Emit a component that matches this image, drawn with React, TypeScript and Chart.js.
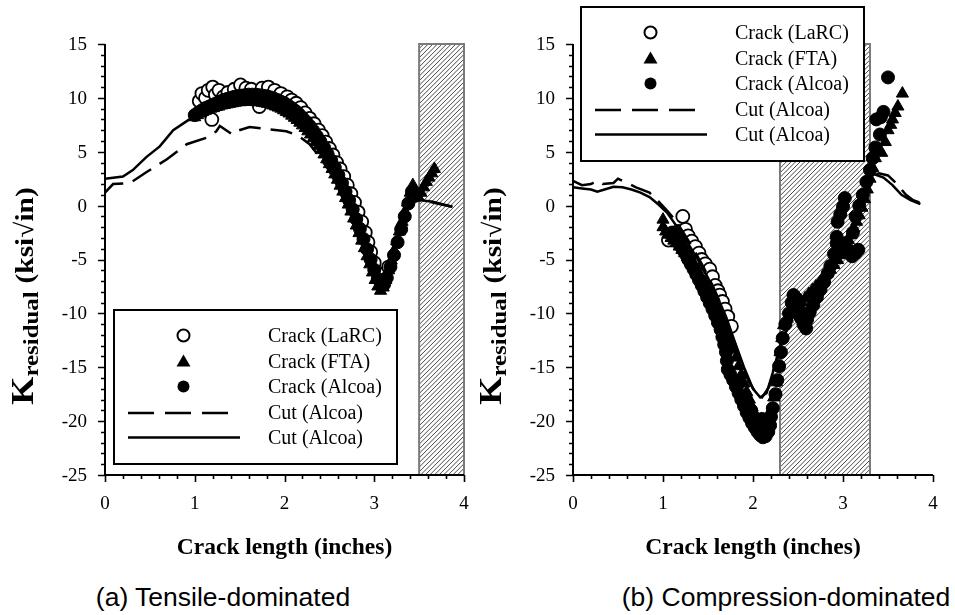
import React, { useEffect, useRef } from "react";
import { Chart, registerables } from "chart.js";
Chart.register(...registerables);

// ---------- shared labels ----------
const xTickValues = [0, 1, 2, 3, 4];
const yTickValues = [-25, -20, -15, -10, -5, 0, 5, 10, 15];
const legendLabels = ["Crack (LaRC)", "Crack (FTA)", "Crack (Alcoa)", "Cut (Alcoa)", "Cut (Alcoa)"];
const xTitle = "Crack length (inches)";
const yTitleMain = "K";
const yTitleSub = "residual";
const yTitleUnit = "(ksi\u221Ain)";
const captionA = "(a) Tensile-dominated";
const captionB = "(b) Compression-dominated";

// ---------- panel (a) tensile-dominated ----------
const aHatch = [3.5, 4.0];
const aLaRC: [number, number][] = [
  [1.05, 9.7], [1.08, 10.4], [1.12, 10.0], [1.15, 10.7], [1.19, 8.0], [1.2, 11.0], [1.23, 10.3],
  [1.27, 10.7], [1.32, 10.1], [1.37, 10.5], [1.44, 10.8], [1.51, 11.2], [1.57, 10.9], [1.63, 10.8],
  [1.72, 9.2], [1.75, 10.9], [1.82, 11.0], [1.89, 10.7], [1.96, 10.4], [2.03, 10.1], [2.08, 9.8],
  [2.13, 9.5], [2.18, 9.1], [2.23, 8.6], [2.28, 8.1], [2.33, 7.6], [2.38, 7.0], [2.42, 6.5],
  [2.46, 5.9], [2.5, 5.3], [2.54, 4.7], [2.58, 4.0], [2.62, 3.4], [2.66, 2.7], [2.7, 1.9],
  [2.74, 1.1], [2.78, 0.3], [2.82, -0.6], [2.86, -1.5], [2.9, -2.5], [2.93, -3.4], [2.96, -4.3],
  [3.0, -5.3], [3.04, -6.3], [3.08, -6.9], [3.12, -6.3], [3.16, -5.7],
];
const aFTA: [number, number][] = [
  [1.0, 8.2], [1.03, 8.4], [1.06, 8.55], [1.09, 8.7], [1.12, 8.8], [1.15, 8.9], [1.18, 9.0], [1.21, 9.05],
  [1.24, 9.15], [1.27, 9.2], [1.3, 9.3], [1.33, 9.35], [1.36, 9.4], [1.39, 9.45], [1.42, 9.5], [1.45, 9.55],
  [1.48, 9.6], [1.51, 9.6], [1.54, 9.65], [1.57, 9.65], [1.6, 9.65], [1.63, 9.65], [1.66, 9.65],
  [1.69, 9.6], [1.72, 9.6], [1.75, 9.55], [1.78, 9.5], [1.81, 9.45], [1.84, 9.4], [1.87, 9.3],
  [1.9, 9.2], [1.93, 9.1], [1.96, 9.0], [1.99, 8.85], [2.02, 8.7], [2.05, 8.55], [2.08, 8.35],
  [2.11, 8.15], [2.14, 7.95], [2.17, 7.7], [2.2, 7.45], [2.23, 7.2], [2.26, 6.9], [2.29, 6.6],
  [2.32, 6.25], [2.35, 5.9], [2.38, 5.55], [2.41, 5.15], [2.44, 4.75], [2.47, 4.3], [2.5, 3.85],
  [2.53, 3.4], [2.56, 2.9], [2.59, 2.4], [2.62, 1.85], [2.65, 1.3], [2.68, 0.7], [2.71, 0.1],
  [2.74, -0.55], [2.77, -1.2], [2.8, -1.85], [2.83, -2.55], [2.86, -3.25], [2.89, -3.95], [2.92, -4.7],
  [2.95, -5.45], [2.98, -6.2], [3.01, -6.9], [3.04, -7.5], [3.07, -7.9], [3.1, -7.6], [3.13, -6.9],
  [3.16, -6.0], [3.19, -5.1], [3.22, -4.2], [3.25, -3.3], [3.28, -2.4], [3.31, -1.5], [3.34, -0.6],
  [3.37, 0.3], [3.4, 1.2], [3.43, 1.9], [3.46, 1.2], [3.49, 0.8], [3.52, 1.2], [3.55, 1.7], [3.58, 2.2],
  [3.61, 2.6], [3.64, 3.0], [3.67, 3.4],
];
const aAlcoa: [number, number][] = [
  [1.0, 8.4], [1.04, 8.65], [1.08, 8.85], [1.12, 9.05], [1.16, 9.2], [1.2, 9.35], [1.24, 9.5],
  [1.28, 9.65], [1.32, 9.8], [1.36, 9.9], [1.4, 10.0], [1.44, 10.1], [1.48, 10.15], [1.52, 10.2],
  [1.56, 10.25], [1.6, 10.3], [1.64, 10.3], [1.68, 10.3], [1.72, 10.25], [1.76, 10.2], [1.8, 10.15],
  [1.84, 10.05], [1.88, 9.95], [1.92, 9.8], [1.96, 9.65], [2.0, 9.5], [2.04, 9.3], [2.08, 9.05],
  [2.12, 8.8], [2.16, 8.5], [2.2, 8.15], [2.24, 7.8], [2.28, 7.4], [2.32, 6.95], [2.36, 6.45],
  [2.4, 5.95], [2.44, 5.4], [2.48, 4.8], [2.52, 4.2], [2.56, 3.55], [2.6, 2.85], [2.64, 2.1],
  [2.68, 1.3], [2.72, 0.5], [2.76, -0.35], [2.8, -1.25], [2.84, -2.15], [2.88, -3.1], [2.92, -4.05],
  [2.96, -5.0], [3.0, -5.95], [3.04, -6.8], [3.08, -7.4], [3.11, -7.3], [3.14, -6.7], [3.18, -5.7],
  [3.22, -4.6], [3.26, -3.4], [3.3, -2.2], [3.34, -1.0], [3.38, 0.2], [3.42, 1.3],
];
const aCutDashed: [number, number][] = [
  [0, 1.2], [0.09, 2.0], [0.28, 2.1], [0.46, 3.1], [0.69, 4.3], [0.91, 5.7], [1.13, 6.3], [1.24, 6.9],
  [1.28, 7.4], [1.42, 6.6], [1.46, 6.9], [1.61, 7.3], [1.87, 7.05], [2.02, 6.9], [2.15, 6.5],
  [2.28, 5.7], [2.4, 4.4], [2.5, 3.2], [2.6, 1.6], [2.7, -0.3], [2.8, -2.4], [2.9, -4.6], [3.0, -6.9],
  [3.06, -7.9], [3.12, -6.8], [3.2, -4.6], [3.3, -2.0], [3.4, 0.2], [3.5, 0.5], [3.62, 0.35],
  [3.75, 0.1], [3.87, -0.1],
];
const aCutSolid: [number, number][] = [
  [0, 2.5], [0.2, 2.7], [0.31, 3.3], [0.46, 4.5], [0.61, 5.5], [0.76, 7.0], [0.94, 8.0], [1.0, 8.3],
  [1.2, 9.0], [1.5, 9.7], [1.8, 9.8], [2.0, 9.3], [2.2, 8.0], [2.4, 6.0], [2.6, 3.0], [2.8, -1.0],
  [3.0, -6.2], [3.05, -7.5], [3.1, -7.0], [3.2, -4.5], [3.3, -2.0], [3.4, 0.3], [3.46, 0.56],
  [3.65, 0.37], [3.87, -0.1],
];

// ---------- panel (b) compression-dominated ----------
const bHatch = [2.3, 3.3];
const bLaRC: [number, number][] = [
  [1.06, -3.2], [1.17, -2.4], [1.22, -1.0], [1.25, -2.2], [1.28, -2.8], [1.32, -3.3], [1.36, -3.8],
  [1.4, -4.4], [1.43, -5.0], [1.47, -5.4], [1.52, -5.9], [1.55, -6.6], [1.58, -7.4], [1.61, -7.9],
  [1.63, -8.3], [1.66, -8.9], [1.69, -9.6], [1.72, -10.3], [1.76, -11.2],
];
const bFTA: [number, number][] = [
  [1.0, -1.3], [1.0, -2.0], [1.03, -2.4], [1.06, -2.7], [1.09, -3.0], [1.12, -3.25], [1.15, -3.5],
  [1.18, -3.8], [1.21, -4.1], [1.24, -4.4], [1.27, -4.75], [1.3, -5.1], [1.33, -5.45], [1.36, -5.8],
  [1.39, -6.2], [1.42, -6.6], [1.45, -7.0], [1.48, -7.45], [1.51, -7.9], [1.54, -8.4], [1.57, -8.9],
  [1.6, -9.45], [1.63, -10.0], [1.66, -10.6], [1.69, -11.25], [1.72, -11.9], [1.75, -12.6],
  [1.78, -13.35], [1.81, -14.1], [1.84, -14.9], [1.87, -15.7], [1.9, -16.5], [1.93, -17.3],
  [1.96, -18.0], [1.99, -18.7], [2.02, -19.3], [2.05, -19.85], [2.08, -20.3], [2.11, -20.5],
  [2.14, -20.4], [2.17, -19.9], [2.2, -19.0], [2.23, -17.8], [2.26, -16.4], [2.28, -15.0],
  [2.3, -13.6], [2.32, -12.3], [2.34, -11.1], [2.38, -10.5], [2.42, -10.1], [2.46, -9.7], [2.5, -9.4],
  [2.54, -9.0], [2.58, -8.6], [2.62, -8.2], [2.66, -7.85], [2.7, -7.5], [2.74, -7.15], [2.78, -6.75],
  [2.82, -6.35], [2.86, -5.95], [2.9, -5.5], [2.94, -5.05], [2.97, -4.6], [3.0, -4.2], [3.03, -3.7],
  [3.06, -3.2], [3.09, -2.7], [3.12, -2.1], [3.15, -1.5], [3.18, -0.9], [3.21, -0.2], [3.24, 0.6],
  [3.27, 1.5], [3.3, 2.5], [3.33, 3.5], [3.36, 4.4], [3.39, 5.0], [3.43, 4.9], [3.47, 5.9], [3.5, 7.0],
  [3.53, 7.5], [3.55, 8.0], [3.58, 8.6], [3.61, 9.2], [3.66, 10.4],
];
const bAlcoa: [number, number][] = [
  [1.1, -2.5], [1.13, -2.9], [1.16, -3.3], [1.19, -3.7], [1.22, -4.1], [1.25, -4.5], [1.28, -5.0],
  [1.31, -5.45], [1.34, -5.9], [1.37, -6.4], [1.4, -6.9], [1.43, -7.4], [1.46, -7.95], [1.49, -8.5],
  [1.52, -9.05], [1.55, -9.6], [1.58, -10.2], [1.61, -10.85], [1.64, -11.5], [1.66, -12.2],
  [1.68, -12.9], [1.7, -13.6], [1.71, -14.4], [1.72, -15.2], [1.75, -15.7], [1.78, -16.2], [1.81, -16.8],
  [1.84, -17.4], [1.87, -18.0], [1.9, -18.6], [1.93, -19.2], [1.96, -19.7], [1.99, -20.2], [2.02, -20.6],
  [2.05, -21.0], [2.08, -21.3], [2.11, -21.5], [2.14, -21.4], [2.17, -21.0], [2.19, -20.4], [2.2, -19.6],
  [2.1, -19.8], [2.05, -20.0], [2.15, -20.0], [1.85, -16.4], [1.92, -17.9], [1.98, -19.0],
  [2.22, -18.8], [2.25, -17.5], [2.27, -16.2], [2.29, -14.9],
  [2.31, -13.6], [2.33, -12.3], [2.36, -11.0], [2.4, -10.0], [2.43, -9.0], [2.45, -8.3], [2.48, -8.6],
  [2.5, -9.5], [2.53, -10.4], [2.56, -11.0], [2.59, -11.4], [2.6, -10.6], [2.63, -9.9], [2.67, -9.2],
  [2.71, -8.5], [2.75, -7.8], [2.79, -7.1], [2.83, -6.3], [2.86, -5.6], [2.9, -4.5], [2.93, -3.5],
  [2.93, -2.9], [2.94, -1.5], [2.97, -0.8], [3.0, -0.1], [3.02, 0.7], [3.02, -3.5], [3.06, -4.1],
  [3.1, -4.7], [3.14, -4.4], [3.17, -4.1], [3.11, -2.5], [3.14, -1.0], [3.18, 0.0], [3.22, 1.0],
  [3.26, 2.2], [3.3, 3.3], [3.33, 4.4], [3.36, 5.4], [3.41, 6.6], [3.37, 8.0], [3.42, 8.2], [3.45, 8.7],
  [3.5, 11.9],
];
const bCutDashed: [number, number][] = [
  [0, 2.3], [0.1, 1.9], [0.2, 2.0], [0.27, 2.3], [0.33, 2.0], [0.45, 2.1], [0.5, 2.5], [0.6, 2.1],
  [0.7, 1.7], [0.85, 1.2], [0.95, 0.4], [1.05, -0.5], [1.15, -1.5], [1.25, -2.8], [1.35, -4.2],
  [1.45, -5.7], [1.55, -7.4], [1.65, -9.3], [1.75, -11.6], [1.85, -14.0], [1.95, -16.3], [2.05, -17.6],
  [2.1, -17.8], [2.18, -16.8], [2.26, -14.5], [2.34, -12.2], [2.45, -10.2], [2.55, -9.0], [2.65, -7.8],
  [2.75, -6.6], [2.85, -5.4], [2.95, -4.1], [3.05, -2.8], [3.15, -1.0], [3.22, 1.0], [3.3, 2.7],
  [3.4, 3.0], [3.5, 2.8], [3.6, 2.0], [3.7, 1.0], [3.78, 0.5], [3.88, 0.2],
];
const bCutSolid: [number, number][] = [
  [0, 1.7], [0.1, 1.6], [0.2, 1.5], [0.27, 1.3], [0.35, 1.5], [0.45, 1.75], [0.55, 1.7], [0.65, 1.5],
  [0.75, 1.2], [0.85, 0.8], [0.95, 0.1], [1.05, -0.7], [1.1, -1.3], [1.2, -2.5], [1.3, -3.8],
  [1.4, -5.2], [1.5, -6.7], [1.6, -8.4], [1.7, -10.3], [1.8, -12.7], [1.9, -15.0], [2.0, -17.0],
  [2.08, -17.8], [2.15, -17.4], [2.22, -15.5], [2.3, -13.0], [2.4, -11.0], [2.5, -9.5], [2.6, -8.3],
  [2.7, -7.2], [2.8, -6.0], [2.9, -4.8], [3.0, -3.5], [3.1, -2.0], [3.2, 0.3], [3.28, 2.6],
  [3.35, 2.9], [3.45, 2.6], [3.55, 1.9], [3.65, 1.0], [3.75, 0.5], [3.86, 0.15],
];

const SERIF = '"Liberation Serif", "Times New Roman", serif';
const SANS = '"Liberation Sans", Arial, sans-serif';

type PanelCfg = {
  hatch: number[];
  legendBox: { x: number; y: number };
};

function makePlugin(cfg: PanelCfg) {
  return {
    id: "panelDecor",
    beforeDatasetsDraw(chart: any) {
      const { ctx, scales } = chart;
      const xs = scales.x, ys = scales.y;
      const x1 = xs.getPixelForValue(cfg.hatch[0]);
      const x2 = xs.getPixelForValue(cfg.hatch[1]);
      const y1 = ys.getPixelForValue(15);
      const y2 = ys.getPixelForValue(-25);
      const h = y2 - y1;
      ctx.save();
      ctx.beginPath();
      ctx.rect(x1, y1, x2 - x1, h);
      ctx.clip();
      ctx.beginPath();
      ctx.strokeStyle = "#333";
      ctx.lineWidth = 0.9;
      for (let k = -h; k < x2 - x1 + 5; k += 4.6) {
        ctx.moveTo(x1 + k, y2);
        ctx.lineTo(x1 + k + h, y1);
      }
      ctx.stroke();
      ctx.restore();
      ctx.save();
      ctx.strokeStyle = "#7a7a7a";
      ctx.lineWidth = 2;
      ctx.strokeRect(x1, y1, x2 - x1, h);
      ctx.restore();
    },
    afterDraw(chart: any) {
      const { ctx, scales, chartArea } = chart;
      const xs = scales.x, ys = scales.y;
      ctx.save();
      // axis lines
      ctx.strokeStyle = "#000";
      ctx.lineWidth = 2;
      ctx.beginPath();
      ctx.moveTo(chartArea.left, chartArea.top);
      ctx.lineTo(chartArea.left, chartArea.bottom);
      ctx.lineTo(chartArea.right, chartArea.bottom);
      ctx.stroke();
      // tick marks
      ctx.lineWidth = 1.6;
      ctx.beginPath();
      for (let i = 0; i <= 20; i++) {
        const px = Math.round(xs.getPixelForValue(i * 0.2)) + 0.5;
        const len = i % 5 === 0 ? 7 : 4;
        ctx.moveTo(px, chartArea.bottom);
        ctx.lineTo(px, chartArea.bottom + len);
      }
      for (let v = -25; v <= 15; v++) {
        const py = Math.round(ys.getPixelForValue(v)) + 0.5;
        const len = v % 5 === 0 ? 7 : 4;
        ctx.moveTo(chartArea.left, py);
        ctx.lineTo(chartArea.left - len, py);
      }
      ctx.stroke();

      // tick labels
      ctx.fillStyle = "#000";
      ctx.font = `19px ${SERIF}`;
      ctx.textAlign = "center";
      ctx.textBaseline = "middle";
      xTickValues.forEach((v) => {
        ctx.fillText(String(v), xs.getPixelForValue(v), 504);
      });
      ctx.textAlign = "right";
      yTickValues.forEach((v) => {
        ctx.fillText(String(v), chartArea.left - 18, ys.getPixelForValue(v) + 1);
      });

      // x title
      ctx.font = `bold 23.5px ${SERIF}`;
      ctx.textAlign = "center";
      ctx.textBaseline = "middle";
      ctx.fillText(xTitle, (chartArea.left + chartArea.right) / 2, 548);

      // y title (rotated)
      ctx.save();
      ctx.translate(chartArea.left - 81, 296);
      ctx.rotate(-Math.PI / 2);
      ctx.scale(1.13, 1);
      ctx.textAlign = "left";
      ctx.textBaseline = "alphabetic";
      const fMain = `bold 32px ${SERIF}`;
      const fSub = `bold 22px ${SERIF}`;
      const fUnit = `bold 26px ${SERIF}`;
      ctx.font = fMain;
      const wK = ctx.measureText(yTitleMain).width;
      ctx.font = fSub;
      const wS = ctx.measureText(yTitleSub).width + 7;
      ctx.font = fUnit;
      const wU = ctx.measureText(yTitleUnit).width;
      let cx = -(wK + wS + wU) / 2;
      const base = 9;
      ctx.font = fMain;
      ctx.fillText(yTitleMain, cx, base);
      cx += wK;
      ctx.font = fSub;
      ctx.fillText(yTitleSub, cx, base + 5);
      cx += wS;
      ctx.font = fUnit;
      ctx.fillText(yTitleUnit, cx, base);
      ctx.restore();

      // legend
      const bx = cfg.legendBox.x, by = cfg.legendBox.y;
      const bw = 283, bh = 154;
      ctx.fillStyle = "#fff";
      ctx.fillRect(bx, by, bw, bh);
      ctx.strokeStyle = "#000";
      ctx.lineWidth = 2;
      ctx.strokeRect(bx, by, bw, bh);
      const rows = [25.5, 51.5, 76.5, 103, 127.5];
      const symX = bx + 69.5;
      ctx.font = `20px ${SERIF}`;
      ctx.textAlign = "left";
      ctx.textBaseline = "middle";
      rows.forEach((ry, i) => {
        const yy = by + ry;
        ctx.fillStyle = "#000";
        ctx.fillText(legendLabels[i], bx + 154, yy + 1);
        ctx.strokeStyle = "#000";
        if (i === 0) {
          ctx.beginPath();
          ctx.lineWidth = 2;
          ctx.fillStyle = "#fff";
          ctx.arc(symX, yy, 6, 0, Math.PI * 2);
          ctx.fill();
          ctx.stroke();
        } else if (i === 1) {
          ctx.beginPath();
          ctx.fillStyle = "#000";
          ctx.moveTo(symX, yy - 7);
          ctx.lineTo(symX + 7, yy + 5);
          ctx.lineTo(symX - 7, yy + 5);
          ctx.closePath();
          ctx.fill();
        } else if (i === 2) {
          ctx.beginPath();
          ctx.fillStyle = "#000";
          ctx.arc(symX, yy, 6, 0, Math.PI * 2);
          ctx.fill();
        } else if (i === 3) {
          ctx.beginPath();
          ctx.lineWidth = 2.5;
          ctx.setLineDash([26, 11]);
          ctx.moveTo(bx + 14, yy);
          ctx.lineTo(bx + 116, yy);
          ctx.stroke();
          ctx.setLineDash([]);
        } else {
          ctx.beginPath();
          ctx.lineWidth = 2.5;
          ctx.moveTo(bx + 14, yy);
          ctx.lineTo(bx + 126, yy);
          ctx.stroke();
        }
      });
      ctx.restore();
    },
  };
}

function buildConfig(
  series: { larc: [number, number][]; fta: [number, number][]; alcoa: [number, number][]; dashed: [number, number][]; solid: [number, number][] },
  cfg: PanelCfg,
  axisWidth: number,
  rightPad: number
): any {
  const toPts = (arr: [number, number][]) => arr.map(([x, y]) => ({ x, y }));
  return {
    type: "scatter",
    data: {
      datasets: [
        {
          label: legendLabels[0], data: toPts(series.larc), pointStyle: "circle", pointRadius: 6.5,
          pointBorderWidth: 1.8, pointBorderColor: "#000", pointBackgroundColor: "#fff", showLine: false, order: 5,
        },
        {
          label: legendLabels[3], data: toPts(series.dashed), showLine: true, pointRadius: 0,
          borderColor: "#000", borderWidth: 2.5, borderDash: [22, 10], order: 4,
        },
        {
          label: legendLabels[4], data: toPts(series.solid), showLine: true, pointRadius: 0,
          borderColor: "#000", borderWidth: 2.5, order: 3,
        },
        {
          label: legendLabels[1], data: toPts(series.fta), pointStyle: "triangle", pointRadius: 7,
          pointBorderWidth: 1, pointBorderColor: "#000", pointBackgroundColor: "#000", showLine: false, order: 2,
        },
        {
          label: legendLabels[2], data: toPts(series.alcoa), pointStyle: "circle", pointRadius: 6.5,
          pointBorderWidth: 1, pointBorderColor: "#000", pointBackgroundColor: "#000", showLine: false, order: 1,
        },
      ],
    },
    options: {
      responsive: false,
      animation: false,
      events: [],
      layout: { padding: { top: 44, right: rightPad, left: 0, bottom: 0 } },
      plugins: { legend: { display: false }, tooltip: { enabled: false } },
      scales: {
        x: {
          type: "linear", min: 0, max: 4,
          afterBuildTicks: (s: any) => { s.ticks = xTickValues.map((v) => ({ value: v })); },
          ticks: { display: false },
          grid: { display: false }, border: { display: false },
          afterFit: (s: any) => { s.height = 85; },
        },
        y: {
          type: "linear", min: -25, max: 15,
          afterBuildTicks: (s: any) => { s.ticks = yTickValues.map((v) => ({ value: v })); },
          ticks: { display: false },
          grid: { display: false }, border: { display: false },
          afterFit: (s: any) => { s.width = axisWidth; },
        },
      },
    },
    plugins: [makePlugin(cfg)],
  };
}

function Panel(props: { left: number; width: number; config: any }) {
  const ref = useRef<HTMLCanvasElement | null>(null);
  useEffect(() => {
    if (!ref.current) return;
    const chart = new Chart(ref.current, props.config);
    return () => chart.destroy();
  }, []);
  return (
    <canvas
      ref={ref}
      width={props.width}
      height={560}
      style={{ position: "absolute", left: props.left, top: 0, width: props.width, height: 560 }}
    />
  );
}

export default function App() {
  const cfgA = buildConfig(
    { larc: aLaRC, fta: aFTA, alcoa: aAlcoa, dashed: aCutDashed, solid: aCutSolid },
    { hatch: aHatch, legendBox: { x: 114, y: 310 } },
    105,
    13
  );
  const cfgB = buildConfig(
    { larc: bLaRC, fta: bFTA, alcoa: bAlcoa, dashed: bCutDashed, solid: bCutSolid },
    { hatch: bHatch, legendBox: { x: 581 - 477, y: 7 } },
    96,
    22
  );
  const capStyle: React.CSSProperties = {
    position: "absolute", top: 581, fontFamily: SANS, fontSize: 26.5, lineHeight: "32px",
    whiteSpace: "nowrap", transform: "translateX(-50%)", color: "#000",
  };
  return (
    <div style={{ position: "absolute", left: 0, top: 0, width: 955, height: 615, background: "#fff", overflow: "hidden" }}>
      <Panel left={0} width={477} config={cfgA} />
      <Panel left={477} width={478} config={cfgB} />
      <div style={{ ...capStyle, left: 223 }}>{captionA}</div>
      <div style={{ ...capStyle, left: 786 }}>{captionB}</div>
    </div>
  );
}
